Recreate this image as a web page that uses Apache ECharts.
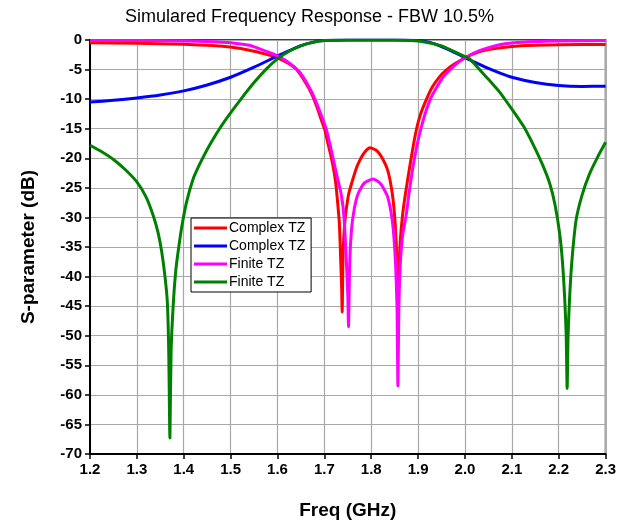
<!DOCTYPE html>
<html>
<head>
<meta charset="utf-8">
<script src="https://cdn.jsdelivr.net/npm/echarts@6/dist/echarts.min.js"></script>
<style>html,body{margin:0;padding:0;background:#fff}#c{width:619px;height:525px}</style>
</head>
<body>
<div id="c"></div>
<script>
const titleText = 'Simulared Frequency Response - FBW 10.5%';
const xName = 'Freq (GHz)';
const yName = 'S-parameter (dB)';
const seriesNames = ['Complex TZ', 'Complex TZ ', 'Finite TZ', 'Finite TZ '];

const freqRed = [1.20,1.30,1.40,1.45,1.50,1.55,1.58,1.60,1.62,1.64,1.66,1.673,1.685,1.694,1.701,1.708,1.714,1.719,1.724,1.727,1.732,1.735,1.737,1.738,1.740,1.744,1.747,1.752,1.761,1.770,1.783,1.797,1.810,1.820,1.835,1.845,1.851,1.855,1.857,1.859,1.862,1.867,1.874,1.882,1.889,1.896,1.905,1.918,1.930,1.946,1.960,1.975,2.000,2.030,2.060,2.100,2.150,2.200,2.300];
const s11Complex = [-0.45,-0.55,-0.7,-0.9,-1.2,-1.9,-2.5,-3.0,-3.8,-4.9,-7.2,-9.1,-11.5,-13.6,-15.2,-17.6,-19.6,-21.5,-24.0,-26.3,-31.0,-37.5,-42,-46,-36,-30.5,-28.5,-26.0,-23.5,-21.3,-19.3,-18.2,-18.6,-19.5,-22,-26,-31,-38,-50,-40,-34,-29.5,-25.5,-21.5,-18.2,-15.3,-12.6,-10.0,-8.0,-6.2,-5.1,-4.2,-3.0,-2.0,-1.5,-1.1,-0.9,-0.8,-0.75];

const freqBlue = [1.20,1.25,1.30,1.35,1.40,1.45,1.50,1.55,1.60,1.625,1.65,1.675,1.70,1.75,1.80,1.85,1.90,1.925,1.95,1.975,2.00,2.025,2.05,2.075,2.10,2.15,2.20,2.25,2.30];
const s21Complex = [-10.5,-10.2,-9.8,-9.3,-8.6,-7.6,-6.3,-4.6,-2.7,-1.8,-0.95,-0.4,-0.1,0,0,0,-0.1,-0.4,-1.1,-2.0,-3.0,-3.9,-4.8,-5.6,-6.3,-7.2,-7.7,-7.85,-7.8];

const freqMagenta = [1.20,1.30,1.40,1.45,1.50,1.54,1.562,1.585,1.605,1.625,1.648,1.673,1.690,1.7045,1.713,1.720,1.728,1.7365,1.742,1.747,1.750,1.7515,1.754,1.758,1.764,1.772,1.785,1.804,1.820,1.834,1.842,1.847,1.852,1.855,1.857,1.859,1.862,1.867,1.875,1.880,1.889,1.903,1.925,1.953,1.982,2.000,2.031,2.074,2.100,2.150,2.200,2.300];
const s11Finite = [-0.1,-0.1,-0.15,-0.25,-0.45,-0.9,-1.5,-2.2,-2.9,-3.9,-5.5,-8.8,-12,-15.2,-18,-20.5,-23.3,-26.3,-30,-37.5,-43,-48.5,-38,-32,-28.5,-26,-24.2,-23.5,-24.3,-26.3,-29,-32,-38,-45,-58.5,-45,-38,-33,-29.4,-26.3,-21.5,-15.9,-10.2,-6.3,-4.05,-3.0,-1.8,-0.8,-0.5,-0.25,-0.15,-0.1];

const freqGreen = [1.20,1.225,1.25,1.275,1.30,1.32,1.335,1.345,1.353,1.360,1.365,1.368,1.3705,1.373,1.378,1.383,1.388,1.396,1.406,1.420,1.434,1.450,1.470,1.491,1.520,1.550,1.575,1.600,1.625,1.650,1.675,1.700,1.750,1.850,1.900,1.925,1.950,1.975,2.000,2.010,2.031,2.053,2.074,2.102,2.125,2.145,2.165,2.181,2.192,2.202,2.208,2.213,2.216,2.218,2.220,2.223,2.228,2.237,2.250,2.266,2.283,2.300];
const s21Finite = [-17.8,-18.9,-20.2,-21.9,-24.0,-26.6,-29.7,-32.5,-35.8,-40,-44.3,-52.7,-67.3,-52.7,-44.2,-39,-35.8,-31.5,-27.4,-23.5,-21,-18.5,-15.8,-13.3,-10.2,-7.2,-5.0,-3.2,-1.9,-1.0,-0.4,-0.1,0,0,-0.15,-0.5,-1.0,-1.9,-2.8,-3.2,-5.0,-6.9,-8.8,-11.9,-14.6,-17.6,-21,-24.3,-27.8,-32.7,-37.5,-44,-50,-58.9,-50,-44,-37.5,-30.5,-26.2,-22.6,-19.8,-17.3];

const xTicks = {min: 1.2, max: 2.3, interval: 0.1};
const yTicks = {min: -70, max: 0, interval: 5};

function pairs(xs, ys) { return xs.map((x, i) => [x, ys[i]]); }

const colors = ['#ff0000', '#0000ff', '#ff00ff', '#008000'];
const dataSets = [pairs(freqRed, s11Complex), pairs(freqBlue, s21Complex), pairs(freqMagenta, s11Finite), pairs(freqGreen, s21Finite)];

const chart = echarts.init(document.getElementById('c'), null, {renderer: 'canvas'});
chart.setOption({
  animation: false,
  backgroundColor: '#fff',
  title: {
    text: titleText, left: 'center', top: 3,
    textStyle: {fontFamily: 'Liberation Sans, Arial', fontSize: 18, fontWeight: 'normal', color: '#000'}
  },
  grid: {left: 90, right: 13, top: 40, bottom: 70, show: true, borderColor: '#000', borderWidth: 1.5, backgroundColor: 'transparent'},
  legend: {
    orient: 'vertical', left: 191, top: 218,
    data: seriesNames,
    icon: 'rect', itemWidth: 33, itemHeight: 3, itemGap: 4,
    padding: [3, 2, 3, 3],
    backgroundColor: '#fff', borderColor: '#000', borderWidth: 1,
    textStyle: {fontFamily: 'Liberation Sans, Arial', fontSize: 14, color: '#000', padding: [0,0,0,-3]}
  },
  xAxis: {
    type: 'value', min: xTicks.min, max: xTicks.max, interval: xTicks.interval,
    name: xName, nameLocation: 'middle', nameGap: 47,
    nameTextStyle: {fontFamily: 'Liberation Sans, Arial', fontSize: 19, fontWeight: 'bold', color: '#000'},
    axisLine: {onZero: false, lineStyle: {color: '#000', width: 2}},
    axisTick: {show: true, inside: false, length: 5, lineStyle: {color: '#000', width: 1.5}},
    axisLabel: {fontFamily: 'Liberation Sans, Arial', fontSize: 15, fontWeight: 'bold', color: '#000', margin: 8,
      formatter: v => v.toFixed(1)},
    splitLine: {show: true, lineStyle: {color: '#a8a8a8', width: 1.2}}
  },
  yAxis: {
    type: 'value', min: yTicks.min, max: yTicks.max, interval: yTicks.interval,
    name: yName, nameLocation: 'middle', nameGap: 52, nameRotate: 90,
    nameTextStyle: {fontFamily: 'Liberation Sans, Arial', fontSize: 19, fontWeight: 'bold', color: '#000'},
    axisLine: {onZero: false, lineStyle: {color: '#000', width: 2}},
    axisTick: {show: true, inside: false, length: 5, lineStyle: {color: '#000', width: 1.5}},
    axisLabel: {fontFamily: 'Liberation Sans, Arial', fontSize: 15, fontWeight: 'bold', color: '#000', margin: 8},
    splitLine: {show: true, lineStyle: {color: '#a8a8a8', width: 1.2}}
  },
  series: seriesNames.map((n, i) => ({
    name: n, type: 'line', data: dataSets[i], showSymbol: false, symbol: 'none',
    smooth: 0.2, clip: true,
    itemStyle: {color: colors[i]},
    lineStyle: {color: colors[i], width: 3, join: 'round'}
  }))
});
</script>
</body>
</html>
